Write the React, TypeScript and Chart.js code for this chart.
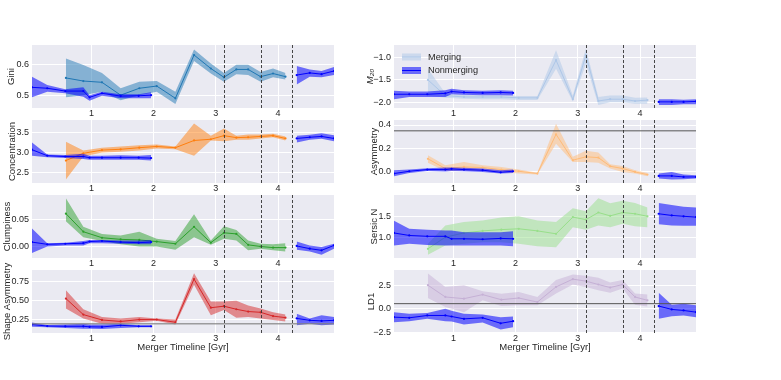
import React, { useEffect, useRef } from "react";
import { Chart, registerables } from "chart.js";
Chart.register(...registerables);

const FONT = "'Liberation Sans', Arial, Helvetica, sans-serif";
const TEXT = "#262626";
const BG = "#EAEAF2";
const NM_LINE = "#0000ff";
const NM_BAND = "rgba(0,0,255,0.55)";

// x positions (Gyr)
const mergX = [0.59, 0.87, 1.17, 1.47, 1.77, 2.05, 2.35, 2.65, 2.92, 3.13, 3.33, 3.52, 3.72, 3.92, 4.12];
const nm1X = [0.045, 0.29, 0.58, 0.87, 0.97, 1.17, 1.47, 1.76, 1.96];
const nm2X = [4.3, 4.51, 4.7, 4.9];
const xTicks = [1, 2, 3, 4];
const vLines = [3.13, 3.72, 4.23];

// Gini
const giniTicks = [0.5, 0.6];
const giniM = [0.557, 0.547, 0.543, 0.502, 0.524, 0.531, 0.492, 0.63, 0.587, 0.559, 0.584, 0.584, 0.561, 0.571, 0.561];
const giniMHi = [0.619, 0.598, 0.573, 0.524, 0.545, 0.547, 0.513, 0.648, 0.603, 0.573, 0.599, 0.599, 0.576, 0.587, 0.573];
const giniMLo = [0.495, 0.502, 0.513, 0.486, 0.502, 0.513, 0.474, 0.611, 0.571, 0.545, 0.569, 0.566, 0.545, 0.559, 0.552];
const giniN1 = [0.527, 0.524, 0.515, 0.515, 0.495, 0.508, 0.499, 0.5, 0.502];
const giniN1Hi = [0.561, 0.534, 0.521, 0.527, 0.502, 0.513, 0.505, 0.505, 0.511];
const giniN1Lo = [0.495, 0.513, 0.508, 0.497, 0.484, 0.5, 0.492, 0.492, 0.492];
const giniN2 = [0.566, 0.573, 0.569, 0.579];
const giniN2Hi = [0.595, 0.584, 0.579, 0.592];
const giniN2Lo = [0.536, 0.561, 0.559, 0.566];

// Concentration
const concTicks = [2.5, 3.0, 3.5];
const concM = [2.8, 2.98, 3.06, 3.08, 3.12, 3.15, 3.12, 3.3, 3.33, 3.42, 3.37, 3.38, 3.4, 3.42, 3.35];
const concMHi = [3.27, 3.05, 3.12, 3.15, 3.18, 3.2, 3.15, 3.72, 3.42, 3.6, 3.42, 3.45, 3.45, 3.47, 3.4];
const concMLo = [2.33, 2.9, 3.0, 3.02, 3.05, 3.1, 3.08, 2.92, 3.3, 3.28, 3.32, 3.32, 3.35, 3.38, 3.3];
const concN1 = [3.07, 2.92, 2.9, 2.9, 2.87, 2.87, 2.87, 2.87, 2.86];
const concN1Hi = [3.25, 2.95, 2.94, 2.97, 2.92, 2.92, 2.93, 2.92, 2.94];
const concN1Lo = [2.92, 2.88, 2.86, 2.84, 2.82, 2.82, 2.82, 2.82, 2.8];
const concN2 = [3.35, 3.38, 3.4, 3.35];
const concN2Hi = [3.42, 3.44, 3.48, 3.43];
const concN2Lo = [3.25, 3.32, 3.34, 3.28];

// Clumpiness
const clumpTicks = [0.0, 0.05];
const clumpM = [0.06, 0.027, 0.016, 0.013, 0.012, 0.009, 0.005, 0.036, 0.007, 0.025, 0.023, 0.003, 0.0, -0.002, -0.002];
const clumpMHi = [0.088, 0.036, 0.023, 0.02, 0.027, 0.014, 0.01, 0.059, 0.011, 0.037, 0.03, 0.011, 0.005, 0.004, 0.006];
const clumpMLo = [0.046, 0.017, 0.01, 0.004, 0.0, 0.0, -0.006, 0.017, 0.003, 0.014, 0.011, -0.007, -0.004, -0.007, -0.009];
const clumpN1 = [0.008, 0.004, 0.005, 0.006, 0.009, 0.01, 0.008, 0.007, 0.008];
const clumpN1Hi = [0.033, 0.006, 0.007, 0.01, 0.012, 0.012, 0.011, 0.011, 0.012];
const clumpN1Lo = [-0.012, 0.0, 0.002, 0.002, 0.006, 0.006, 0.005, 0.004, 0.004];
const clumpN2 = [0.001, -0.004, -0.007, 0.002];
const clumpN2Hi = [0.009, 0.002, -0.001, 0.005];
const clumpN2Lo = [-0.006, -0.009, -0.015, -0.004];

// Shape Asymmetry
const shapeTicks = [0.25, 0.5, 0.75];
const shapeM = [0.53, 0.32, 0.25, 0.23, 0.255, 0.255, 0.22, 0.785, 0.41, 0.43, 0.39, 0.36, 0.35, 0.3, 0.28];
const shapeMHi = [0.64, 0.39, 0.29, 0.27, 0.29, 0.27, 0.255, 0.86, 0.49, 0.49, 0.5, 0.44, 0.4, 0.35, 0.32];
const shapeMLo = [0.4, 0.27, 0.2, 0.2, 0.22, 0.24, 0.19, 0.71, 0.31, 0.38, 0.28, 0.29, 0.27, 0.25, 0.23];
const shapeN1 = [0.19, 0.17, 0.167, 0.167, 0.16, 0.158, 0.18, 0.167, 0.167];
const shapeN1Hi = [0.215, 0.185, 0.19, 0.2, 0.19, 0.19, 0.2, 0.18, 0.18];
const shapeN1Lo = [0.16, 0.155, 0.145, 0.135, 0.135, 0.13, 0.145, 0.155, 0.155];
const shapeN2 = [0.27, 0.245, 0.237, 0.245];
const shapeN2Hi = [0.33, 0.27, 0.31, 0.29];
const shapeN2Lo = [0.18, 0.2, 0.18, 0.19];

// M20
const m20Ticks = [-2.0, -1.5, -1.0];
const m20M = [-1.5, -1.85, -1.88, -1.88, -1.88, -1.9, -1.9, -1.06, -1.93, -0.95, -1.97, -1.93, -1.93, -1.97, -1.95];
const m20MHi = [-1.25, -1.8, -1.82, -1.84, -1.84, -1.86, -1.86, -0.84, -1.85, -0.8, -1.88, -1.85, -1.85, -1.9, -1.89];
const m20MLo = [-1.85, -1.9, -1.92, -1.93, -1.93, -1.95, -1.95, -1.25, -1.98, -1.14, -2.06, -2.0, -2.0, -2.03, -2.03];
const m20N1 = [-1.82, -1.82, -1.82, -1.8, -1.76, -1.78, -1.79, -1.78, -1.79];
const m20N1Hi = [-1.74, -1.76, -1.76, -1.73, -1.7, -1.73, -1.74, -1.73, -1.74];
const m20N1Lo = [-1.93, -1.88, -1.88, -1.88, -1.82, -1.83, -1.84, -1.84, -1.85];
const m20N2 = [-1.99, -1.99, -1.99, -1.98];
const m20N2Hi = [-1.93, -1.93, -1.94, -1.93];
const m20N2Lo = [-2.06, -2.06, -2.04, -2.04];

// Asymmetry
const asymTicks = [0.0, 0.2, 0.4];
const asymM = [0.11, 0.026, 0.04, 0.035, 0.017, 0.003, -0.017, 0.32, 0.098, 0.127, 0.12, 0.046, 0.026, -0.003, -0.026];
const asymMHi = [0.14, 0.055, 0.083, 0.055, 0.04, 0.017, -0.01, 0.41, 0.127, 0.18, 0.164, 0.063, 0.049, 0.012, -0.012];
const asymMLo = [0.075, 0.006, 0.012, 0.006, -0.003, -0.017, -0.026, 0.24, 0.083, 0.083, 0.075, 0.026, -0.003, -0.017, -0.04];
const asymN1 = [-0.017, 0.003, 0.017, 0.017, 0.023, 0.017, 0.012, -0.006, 0.003];
const asymN1Hi = [0.012, 0.017, 0.029, 0.035, 0.035, 0.032, 0.026, 0.012, 0.017];
const asymN1Lo = [-0.04, -0.012, 0.006, 0.0, 0.006, 0.003, -0.003, -0.017, -0.012];
const asymN2 = [-0.037, -0.037, -0.046, -0.046];
const asymN2Hi = [-0.017, -0.003, -0.026, -0.032];
const asymN2Lo = [-0.06, -0.069, -0.066, -0.06];

// Sersic N
const sersicTicks = [1.0, 1.5];
const sersicM = [0.72, 1.0, 1.1, 1.15, 1.18, 1.2, 1.15, 1.08, 1.48, 1.42, 1.59, 1.51, 1.59, 1.56, 1.5];
const sersicMHi = [0.84, 1.28, 1.36, 1.4, 1.47, 1.5, 1.4, 1.36, 1.69, 1.62, 1.93, 1.81, 1.87, 1.82, 1.71];
const sersicMLo = [0.58, 0.8, 0.84, 0.88, 0.88, 0.84, 0.78, 0.76, 1.24, 1.18, 1.28, 1.24, 1.32, 1.26, 1.24];
const sersicN1 = [1.1, 1.04, 1.02, 1.02, 0.96, 0.96, 0.95, 0.97, 0.96];
const sersicN1Hi = [1.39, 1.2, 1.18, 1.16, 1.16, 1.12, 1.12, 1.12, 1.14];
const sersicN1Lo = [0.8, 0.84, 0.81, 0.8, 0.8, 0.8, 0.8, 0.8, 0.78];
const sersicN2 = [1.56, 1.52, 1.5, 1.48];
const sersicN2Hi = [1.82, 1.77, 1.73, 1.71];
const sersicN2Lo = [1.31, 1.28, 1.27, 1.27];

// LD1
const ld1Ticks = [-2.5, 0.0, 2.5];
const ld1M = [2.5, 1.25, 1.07, 1.5, 0.96, 1.14, 0.71, 2.32, 3.14, 2.93, 2.57, 2.25, 2.57, 1.25, 0.89];
const ld1MHi = [3.75, 2.32, 2.5, 1.86, 1.6, 1.79, 1.25, 3.04, 3.64, 3.5, 3.29, 2.79, 3.04, 1.61, 1.5];
const ld1MLo = [1.14, 0.18, -0.36, 0.89, 0.29, 0.36, 0.36, 1.61, 2.57, 2.32, 1.96, 1.71, 2.14, 0.43, 0.25];
const ld1N1 = [-0.89, -0.96, -0.71, -0.71, -0.82, -1.07, -0.96, -1.54, -1.32];
const ld1N1Hi = [-0.36, -0.54, -0.46, 0.0, -0.2, -0.54, -0.6, -0.89, -0.82];
const ld1N1Lo = [-1.43, -1.32, -1.07, -1.32, -1.35, -1.68, -1.45, -2.21, -1.96];
const ld1N2 = [0.29, -0.07, -0.18, -0.36];
const ld1N2Hi = [1.71, 0.43, 0.54, 0.36];
const ld1N2Lo = [-1.07, -0.79, -0.71, -0.89];

type Ref = { y: number; color: string; width: number };
type Cfg = {
  id: string; col: number; row: number; label: string; italic?: boolean;
  ticks: number[]; dec: number; min: number; max: number;
  line: string; band: string;
  m: number[][]; n1: number[][]; n2: number[][];
  titleX: number; ref?: Ref; legend?: boolean;
};

const panels: Cfg[] = [
  { id: "gini", col: 0, row: 0, label: "Gini", ticks: giniTicks, dec: 1, min: 0.461, max: 0.662, line: "#1f77b4", band: "rgba(31,119,180,0.5)", m: [giniM, giniMHi, giniMLo], n1: [giniN1, giniN1Hi, giniN1Lo], n2: [giniN2, giniN2Hi, giniN2Lo], titleX: 11.5 },
  { id: "conc", col: 0, row: 1, label: "Concentration", ticks: concTicks, dec: 1, min: 2.24, max: 3.81, line: "#ff7f0e", band: "rgba(255,127,14,0.5)", m: [concM, concMHi, concMLo], n1: [concN1, concN1Hi, concN1Lo], n2: [concN2, concN2Hi, concN2Lo], titleX: 12 },
  { id: "clump", col: 0, row: 2, label: "Clumpiness", ticks: clumpTicks, dec: 2, min: -0.021, max: 0.094, line: "#2ca02c", band: "rgba(44,160,44,0.5)", m: [clumpM, clumpMHi, clumpMLo], n1: [clumpN1, clumpN1Hi, clumpN1Lo], n2: [clumpN2, clumpN2Hi, clumpN2Lo], titleX: 7 },
  { id: "shape", col: 0, row: 3, label: "Shape Asymmetry", ticks: shapeTicks, dec: 2, min: 0.079, max: 0.904, line: "#d62728", band: "rgba(214,39,40,0.5)", m: [shapeM, shapeMHi, shapeMLo], n1: [shapeN1, shapeN1Hi, shapeN1Lo], n2: [shapeN2, shapeN2Hi, shapeN2Lo], titleX: 7.5, ref: { y: 0.2, color: "rgba(128,128,128,0.75)", width: 1.5 } },
  { id: "m20", col: 1, row: 0, label: "M\u2082\u2080", italic: true, ticks: m20Ticks, dec: 1, min: -2.126, max: -0.723, line: "#aec7e8", band: "rgba(174,199,232,0.5)", m: [m20M, m20MHi, m20MLo], n1: [m20N1, m20N1Hi, m20N1Lo], n2: [m20N2, m20N2Hi, m20N2Lo], titleX: 8, legend: true },
  { id: "asym", col: 1, row: 1, label: "Asymmetry", ticks: asymTicks, dec: 1, min: -0.098, max: 0.443, line: "#ffbb78", band: "rgba(255,187,120,0.5)", m: [asymM, asymMHi, asymMLo], n1: [asymN1, asymN1Hi, asymN1Lo], n2: [asymN2, asymN2Hi, asymN2Lo], titleX: 12, ref: { y: 0.35, color: "#555555", width: 1 } },
  { id: "sersic", col: 1, row: 2, label: "Sersic N", ticks: sersicTicks, dec: 1, min: 0.5, max: 2.01, line: "#98df8a", band: "rgba(152,223,138,0.5)", m: [sersicM, sersicMHi, sersicMLo], n1: [sersicN1, sersicN1Hi, sersicN1Lo], n2: [sersicN2, sersicN2Hi, sersicN2Lo], titleX: 12 },
  { id: "ld1", col: 1, row: 3, label: "LD1", ticks: ld1Ticks, dec: 1, min: -2.57, max: 4.11, line: "#c5b0d5", band: "rgba(197,176,213,0.5)", m: [ld1M, ld1MHi, ld1MLo], n1: [ld1N1, ld1N1Hi, ld1N1Lo], n2: [ld1N2, ld1N2Hi, ld1N2Lo], titleX: 9, ref: { y: 0.54, color: "#555555", width: 1 } },
];

const AXIS_W = 32;
const PLOT_W = 302;
const PLOT_H = 63;
const PAD_TOP = 10;
const PAD_RIGHT = 10;
const TITLE_SIZE = 9.5;
const TICK_SIZE = 9;

const pts = (xs: number[], ys: number[]) => xs.map((x, i) => ({ x, y: ys[i] }));
const fmt = (v: number, dec: number) => {
  const s = Math.abs(v).toFixed(dec);
  return (v < -1e-9 ? "\u2212" : "") + s;
};

function buildDatasets(c: Cfg) {
  const groups: { xs: number[]; d: number[][]; line: string; band: string; order: number }[] = [
    { xs: mergX, d: c.m, line: c.line, band: c.band, order: 10 },
    { xs: nm1X, d: c.n1, line: NM_LINE, band: NM_BAND, order: 5 },
    { xs: nm2X, d: c.n2, line: NM_LINE, band: NM_BAND, order: 5 },
  ];
  const ds: any[] = [];
  groups.forEach((g) => {
    ds.push({ data: pts(g.xs, g.d[1]), fill: "+1", backgroundColor: g.band, borderWidth: 0, borderColor: "rgba(0,0,0,0)", pointRadius: 0, tension: 0, order: g.order + 1 });
    ds.push({ data: pts(g.xs, g.d[2]), fill: false, borderWidth: 0, borderColor: "rgba(0,0,0,0)", pointRadius: 0, tension: 0, order: g.order + 1 });
    ds.push({ data: pts(g.xs, g.d[0]), fill: false, borderWidth: 1, borderColor: g.line, pointRadius: 1.1, pointBackgroundColor: g.line, pointBorderWidth: 0, tension: 0, order: g.order });
  });
  return ds;
}

function Panel({ c }: { c: Cfg }) {
  const ref = useRef<HTMLCanvasElement>(null);
  const bottom = c.row === 3;
  const xH = bottom ? 20 : 12;
  const w = AXIS_W + PLOT_W + PAD_RIGHT;
  const h = PAD_TOP + PLOT_H + xH;
  const left = c.col === 0 ? 0 : 362;
  const top = 45 + 75 * c.row - PAD_TOP;

  useEffect(() => {
    const lh = TITLE_SIZE * 1.2;
    const plugin = {
      id: "decor_" + c.id,
      beforeDraw(chart: any) {
        const { ctx, chartArea: a } = chart;
        ctx.save();
        ctx.fillStyle = BG;
        ctx.fillRect(a.left, a.top, a.right - a.left, a.bottom - a.top);
        ctx.restore();
      },
      afterDatasetsDraw(chart: any) {
        const { ctx, chartArea: a, scales } = chart;
        ctx.save();
        ctx.beginPath();
        ctx.rect(a.left, a.top, a.right - a.left, a.bottom - a.top);
        ctx.clip();
        if (c.ref) {
          const y = scales.y.getPixelForValue(c.ref.y);
          ctx.strokeStyle = c.ref.color;
          ctx.lineWidth = c.ref.width;
          ctx.beginPath();
          ctx.moveTo(a.left, y);
          ctx.lineTo(a.right, y);
          ctx.stroke();
        }
        ctx.strokeStyle = "#333333";
        ctx.lineWidth = 0.9;
        ctx.setLineDash([3, 2]);
        vLines.forEach((v) => {
          const x = Math.round(scales.x.getPixelForValue(v)) + 0.5;
          ctx.beginPath();
          ctx.moveTo(x, a.top);
          ctx.lineTo(x, a.bottom);
          ctx.stroke();
        });
        ctx.restore();
      },
      afterDraw(chart: any) {
        if (!c.legend) return;
        const { ctx, chartArea: a } = chart;
        ctx.save();
        const px = a.left + 8;
        const rows = [
          { label: "Merging", band: c.band, line: c.line, y: a.top + 12 },
          { label: "Nonmerging", band: NM_BAND, line: NM_LINE, y: a.top + 25.5 },
        ];
        rows.forEach((r) => {
          ctx.fillStyle = r.band;
          ctx.fillRect(px, r.y - 3.5, 19, 7);
          ctx.strokeStyle = r.line;
          ctx.lineWidth = 1;
          ctx.beginPath();
          ctx.moveTo(px, r.y);
          ctx.lineTo(px + 19, r.y);
          ctx.stroke();
          ctx.fillStyle = TEXT;
          ctx.font = `9.2px ${FONT}`;
          ctx.textBaseline = "middle";
          ctx.textAlign = "left";
          ctx.fillText(r.label, px + 26, r.y);
        });
        ctx.restore();
      },
    };

    const chart = new Chart(ref.current as HTMLCanvasElement, {
      type: "line",
      data: { datasets: buildDatasets(c) },
      options: {
        animation: false,
        responsive: false,
        maintainAspectRatio: false,
        events: [],
        layout: { padding: { top: PAD_TOP, right: PAD_RIGHT, left: 0, bottom: 0 } },
        plugins: { legend: { display: false }, tooltip: { enabled: false } },
        scales: {
          x: {
            type: "linear",
            min: 0.045,
            max: 4.9,
            position: "bottom",
            grid: { color: "#ffffff", lineWidth: 1, drawTicks: false },
            border: { display: false },
            ticks: {
              autoSkip: false, maxRotation: 0, padding: 0, color: TEXT,
              font: { family: FONT, size: TICK_SIZE },
              callback: (v: any) => String(v),
            },
            title: {
              display: bottom,
              text: "Merger Timeline [Gyr]",
              color: TEXT,
              font: { family: FONT, size: TITLE_SIZE },
              padding: { top: 0, bottom: 0 },
            },
            afterBuildTicks: (s: any) => { s.ticks = xTicks.map((v) => ({ value: v })); },
            afterFit: (s: any) => { s.height = xH; },
          },
          y: {
            type: "linear",
            min: c.min,
            max: c.max,
            position: "left",
            grid: { color: "#ffffff", lineWidth: 1, drawTicks: false },
            border: { display: false },
            ticks: {
              autoSkip: false, padding: 3, color: TEXT,
              font: { family: FONT, size: TICK_SIZE },
              callback: (v: any) => fmt(Number(v), c.dec),
            },
            title: {
              display: true,
              text: c.label,
              color: TEXT,
              font: { family: FONT, size: TITLE_SIZE, style: c.italic ? "italic" : "normal" },
              padding: { top: Math.max(0, c.titleX - lh / 2), bottom: 0 },
            },
            afterBuildTicks: (s: any) => { s.ticks = c.ticks.map((v) => ({ value: v })); },
            afterFit: (s: any) => { s.width = AXIS_W; },
          },
        },
      } as any,
      plugins: [plugin],
    });
    return () => chart.destroy();
  }, []);

  return (
    <canvas
      ref={ref}
      width={w}
      height={h}
      style={{ position: "absolute", left, top, width: w, height: h }}
    />
  );
}

export default function App() {
  return (
    <div style={{ position: "absolute", left: 0, top: 0, width: 781, height: 380, background: "#ffffff" }}>
      {panels.map((c) => (
        <Panel key={c.id} c={c} />
      ))}
    </div>
  );
}
